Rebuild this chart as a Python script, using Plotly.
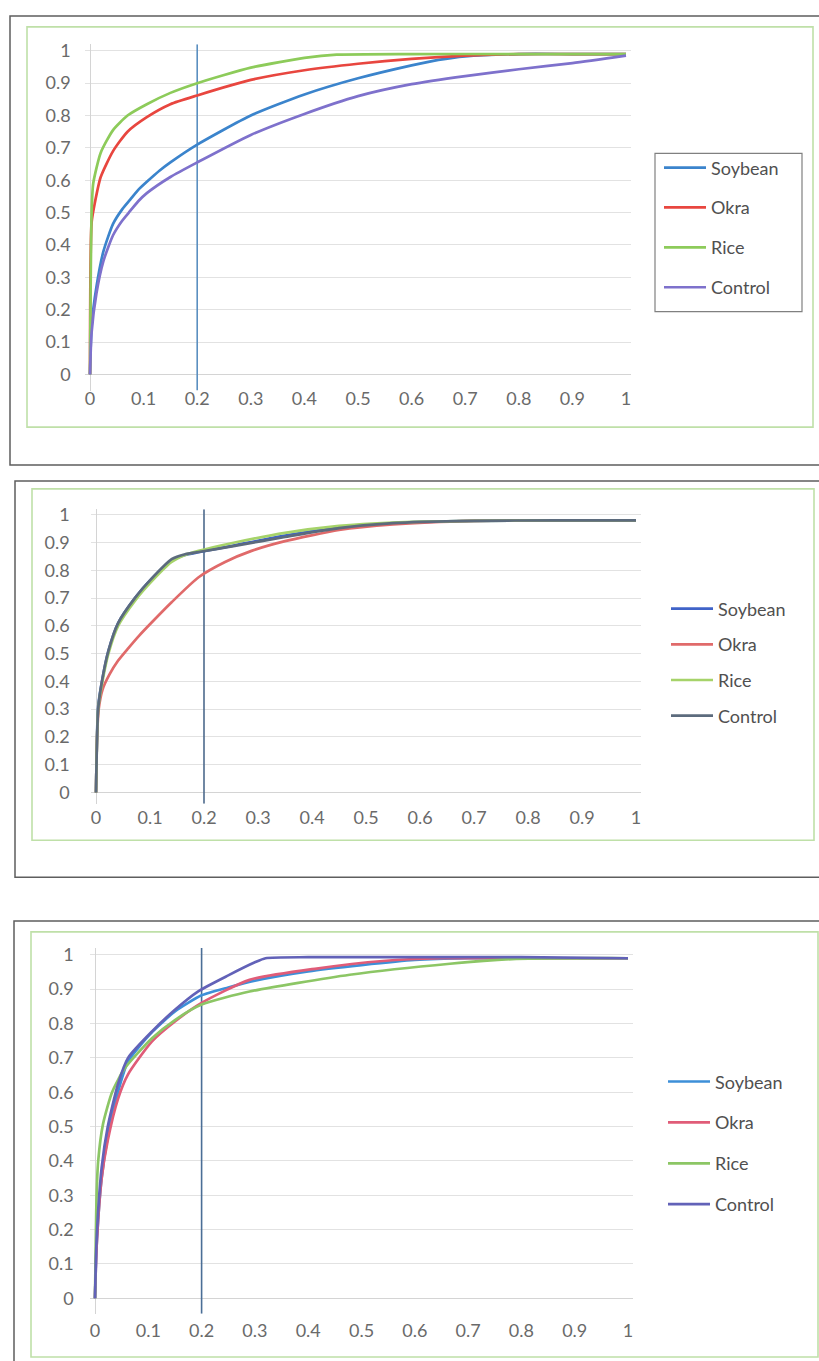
import plotly.graph_objects as go

W, H = 819, 1361

SERIES = ["Soybean", "Okra", "Rice", "Control"]
TICK_VALS = [0, 0.1, 0.2, 0.3, 0.4, 0.5, 0.6, 0.7, 0.8, 0.9, 1]
TICK_TEXT = ["0", "0.1", "0.2", "0.3", "0.4", "0.5", "0.6", "0.7", "0.8", "0.9", "1"]
CUTOFF = 0.2

# ---------------- Panel 1 ----------------
p1_soy_x = [0, 0.003, 0.012, 0.025, 0.043, 0.06, 0.075, 0.09, 0.106, 0.13, 0.15, 0.2, 0.3, 0.4, 0.5, 0.6, 0.65, 0.7, 0.8, 0.9, 1]
p1_soy_y = [0, 0.15, 0.27, 0.38, 0.465, 0.51, 0.54, 0.57, 0.595, 0.63, 0.655, 0.71, 0.80, 0.865, 0.915, 0.955, 0.972, 0.983, 0.99, 0.99, 0.99]
p1_okra_x = [0, 0.003, 0.009, 0.02, 0.043, 0.07, 0.106, 0.15, 0.2, 0.3, 0.4, 0.5, 0.6, 0.7, 0.8, 0.9, 1]
p1_okra_y = [0, 0.47, 0.53, 0.61, 0.69, 0.75, 0.795, 0.835, 0.862, 0.91, 0.94, 0.96, 0.975, 0.985, 0.99, 0.99, 0.99]
p1_rice_x = [0, 0.003, 0.006, 0.02, 0.043, 0.07, 0.106, 0.15, 0.2, 0.3, 0.4, 0.46, 0.6, 0.8, 1]
p1_rice_y = [0, 0.50, 0.59, 0.685, 0.755, 0.80, 0.835, 0.87, 0.90, 0.948, 0.978, 0.988, 0.99, 0.99, 0.99]
p1_ctrl_x = [0, 0.003, 0.012, 0.025, 0.043, 0.06, 0.075, 0.09, 0.106, 0.15, 0.2, 0.3, 0.4, 0.5, 0.6, 0.7, 0.8, 0.9, 1]
p1_ctrl_y = [0, 0.13, 0.25, 0.35, 0.43, 0.475, 0.505, 0.535, 0.56, 0.61, 0.655, 0.74, 0.805, 0.86, 0.897, 0.922, 0.943, 0.962, 0.985]

# ---------------- Panel 2 ----------------
p2_soy_x = [0, 0.004, 0.011, 0.023, 0.041, 0.072, 0.103, 0.14, 0.165, 0.19, 0.257, 0.35, 0.45, 0.55, 0.7, 0.85, 1]
p2_soy_y = [0, 0.31, 0.40, 0.51, 0.61, 0.70, 0.77, 0.835, 0.855, 0.865, 0.89, 0.925, 0.955, 0.97, 0.978, 0.98, 0.98]
p2_okra_x = [0, 0.002, 0.005, 0.012, 0.025, 0.041, 0.06, 0.08, 0.103, 0.14, 0.19, 0.239, 0.288, 0.35, 0.45, 0.55, 0.7, 0.85, 1]
p2_okra_y = [0, 0.2, 0.3, 0.37, 0.425, 0.475, 0.52, 0.565, 0.612, 0.685, 0.775, 0.83, 0.87, 0.905, 0.945, 0.965, 0.978, 0.98, 0.98]
p2_rice_x = [0, 0.004, 0.011, 0.023, 0.041, 0.072, 0.103, 0.14, 0.165, 0.19, 0.257, 0.35, 0.45, 0.55, 0.7, 0.85, 1]
p2_rice_y = [0, 0.30, 0.39, 0.50, 0.60, 0.69, 0.76, 0.83, 0.855, 0.87, 0.90, 0.935, 0.96, 0.972, 0.978, 0.98, 0.98]
p2_ctrl_x = [0, 0.004, 0.011, 0.023, 0.041, 0.072, 0.103, 0.14, 0.165, 0.19, 0.257, 0.35, 0.45, 0.55, 0.7, 0.85, 1]
p2_ctrl_y = [0, 0.30, 0.40, 0.51, 0.61, 0.70, 0.77, 0.84, 0.858, 0.866, 0.888, 0.92, 0.952, 0.97, 0.978, 0.98, 0.98]

# ---------------- Panel 3 ----------------
p3_soy_x = [0, 0.003, 0.0125, 0.024, 0.043, 0.062, 0.107, 0.15, 0.2, 0.25, 0.3, 0.4, 0.5, 0.6, 0.7, 0.8, 1]
p3_soy_y = [0, 0.15, 0.35, 0.47, 0.60, 0.69, 0.775, 0.835, 0.882, 0.905, 0.925, 0.952, 0.97, 0.985, 0.99, 0.99, 0.99]
p3_okra_x = [0, 0.003, 0.0125, 0.024, 0.043, 0.062, 0.107, 0.15, 0.2, 0.29, 0.416, 0.54, 0.65, 0.8, 1]
p3_okra_y = [0, 0.15, 0.35, 0.46, 0.58, 0.652, 0.748, 0.806, 0.86, 0.927, 0.96, 0.982, 0.99, 0.99, 0.99]
p3_rice_x = [0, 0.003, 0.006, 0.015, 0.032, 0.056, 0.107, 0.15, 0.2, 0.29, 0.478, 0.666, 0.79, 1]
p3_rice_y = [0, 0.30, 0.40, 0.507, 0.60, 0.67, 0.757, 0.81, 0.855, 0.893, 0.942, 0.974, 0.988, 0.99]
p3_ctrl_x = [0, 0.003, 0.0125, 0.024, 0.043, 0.062, 0.107, 0.15, 0.193, 0.25, 0.3, 0.32, 0.4, 0.6, 0.8, 1]
p3_ctrl_y = [0, 0.17, 0.38, 0.50, 0.623, 0.70, 0.777, 0.84, 0.893, 0.94, 0.978, 0.99, 0.993, 0.993, 0.993, 0.99]

panels = [
    dict(
        data=[(p1_soy_x, p1_soy_y), (p1_okra_x, p1_okra_y), (p1_rice_x, p1_rice_y), (p1_ctrl_x, p1_ctrl_y)],
        colors=["#3B84CC", "#E8463F", "#8DCB5A", "#7E71CC"],
        vcolor="#5B8FC0",
        px_x0=90, px_x1=626, px_y0=370, px_y1=45, yr=[-0.05, 1.02],
        xstand=-5, ystand=13,
        legend_x=659, legend_y=144, gap=13.5,
    ),
    dict(
        data=[(p2_soy_x, p2_soy_y), (p2_okra_x, p2_okra_y), (p2_rice_x, p2_rice_y), (p2_ctrl_x, p2_ctrl_y)],
        colors=["#3F63C8", "#E06A6A", "#A6D36A", "#5C6B7D"],
        vcolor="#4D6A8C",
        px_x0=96, px_x1=636, px_y0=790, px_y1=511, yr=[-0.04, 1.02],
        xstand=1, ystand=20,
        legend_x=666, legend_y=587, gap=9.3,
    ),
    dict(
        data=[(p3_soy_x, p3_soy_y), (p3_okra_x, p3_okra_y), (p3_rice_x, p3_rice_y), (p3_ctrl_x, p3_ctrl_y)],
        colors=["#3D8FD8", "#E05C78", "#8CC665", "#6262B8"],
        vcolor="#4A6E96",
        px_x0=95, px_x1=628, px_y0=1298, px_y1=953, yr=[-0.045, 1.02],
        xstand=4, ystand=15,
        legend_x=663, legend_y=1062, gap=14.5,
    ),
]

XR = [-0.01, 1.01]
FONT = "Lato, 'Open Sans', sans-serif"

fig = go.Figure()
layout = dict(
    width=W, height=H,
    margin=dict(l=0, r=0, t=0, b=0),
    paper_bgcolor="white", plot_bgcolor="white",
    font=dict(family=FONT),
    shapes=[],
)

for i, p in enumerate(panels, start=1):
    sfx = "" if i == 1 else str(i)
    xa, ya = "x" + sfx, "y" + sfx
    leg = "legend" + sfx
    ux = (p["px_x1"] - p["px_x0"])
    uy = (p["px_y0"] - p["px_y1"])
    left = p["px_x0"] + XR[0] * ux
    right = p["px_x0"] + XR[1] * ux
    top = p["px_y0"] - p["yr"][1] * uy
    bottom = p["px_y0"] - p["yr"][0] * uy

    # cutoff line
    fig.add_trace(go.Scatter(
        x=[CUTOFF, CUTOFF], y=p["yr"], mode="lines",
        line=dict(color=p["vcolor"], width=1.6),
        showlegend=False, hoverinfo="skip", xaxis=xa, yaxis=ya,
    ))
    for name, (xs, ys), col in zip(SERIES, p["data"], p["colors"]):
        fig.add_trace(go.Scatter(
            x=xs, y=ys, mode="lines", name=name,
            line=dict(color=col, width=2.7, shape="spline", smoothing=0.6),
            xaxis=xa, yaxis=ya, legend=leg, legendgroup=f"p{i}{name}",
        ))

    layout["xaxis" + sfx] = dict(
        domain=[left / W, right / W], range=XR, anchor=ya,
        tickvals=TICK_VALS, ticktext=TICK_TEXT,
        showgrid=False, zeroline=True, zerolinecolor="#D4D4D4", zerolinewidth=1,
        showline=False, ticks="",
        tickfont=dict(size=18, color="#6A6A6A", family=FONT),
        ticklabelstandoff=p["xstand"], fixedrange=True,
    )
    layout["yaxis" + sfx] = dict(
        domain=[1 - bottom / H, 1 - top / H], range=p["yr"], anchor=xa,
        tickvals=TICK_VALS, ticktext=TICK_TEXT,
        showgrid=True, gridcolor="#E2E2E2", gridwidth=1,
        zeroline=True, zerolinecolor="#D4D4D4", zerolinewidth=1,
        showline=False, ticks="",
        tickfont=dict(size=18, color="#6A6A6A", family=FONT),
        ticklabelstandoff=p["ystand"], fixedrange=True,
    )
    layout[leg] = dict(
        x=p["legend_x"] / W, y=1 - p["legend_y"] / H, xanchor="left", yanchor="top",
        bgcolor="rgba(0,0,0,0)", borderwidth=0,
        font=dict(size=18, color="#505050", family=FONT),
        itemwidth=42, tracegroupgap=p["gap"],
    )


def rect(x0, y0, x1, y1, color, width):
    return dict(type="rect", xref="paper", yref="paper",
                x0=x0 / W, x1=x1 / W, y0=1 - y1 / H, y1=1 - y0 / H,
                line=dict(color=color, width=width), fillcolor="rgba(0,0,0,0)", layer="below")


GRAY = "#5E5E5E"
GREEN = "#BFE0A8"
layout["shapes"] = [
    rect(10, 10, 840, 461, GRAY, 1.5),
    rect(27, 21, 813, 423, GREEN, 1.6),
    rect(655, 148, 802, 307, "#808080", 1.2),
    rect(15, 477, 840, 875, GRAY, 1.5),
    rect(32, 485, 814, 838, GREEN, 1.6),
    rect(14, 919, 840, 1380, GRAY, 1.5),
    rect(31, 930, 818, 1357, GREEN, 1.6),
]

fig.update_layout(**layout)
fig.write_html("out.html")
